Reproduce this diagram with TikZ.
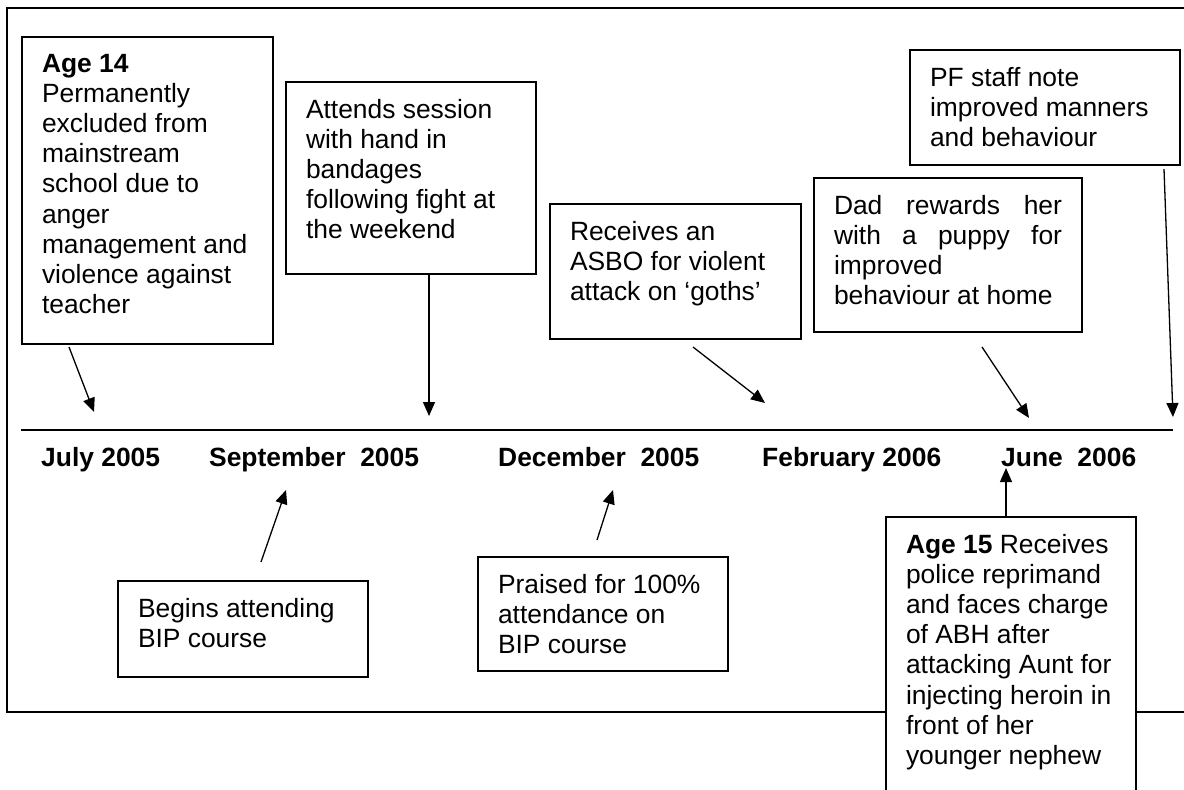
\documentclass[tikz,border=0pt]{standalone}
\usepackage{fontspec}
\setmainfont{Liberation Sans}
\usetikzlibrary{arrows.meta,calc}
\newcommand{\eventFont}{\fontsize{26.4}{30.2}\selectfont}
\newcommand{\eventText}[3]{\parbox[t][#2][t]{#1}{\raggedright #3}}
\newcommand{\timeY}{430}

\tikzset{
  eventbox/.style={draw, line width=2pt, fill=white, anchor=north west,
    inner xsep=20pt, inner ysep=17pt, font=\eventFont},
  datelabel/.style={anchor=base west, inner sep=0pt, font=\eventFont\bfseries},
  eventarrow/.style={-{Triangle[length=14pt,width=12pt]}, line width=1.3pt}
}

\begin{document}
\begin{tikzpicture}[x=1pt, y=-1pt]
\useasboundingbox (0,0) rectangle (1184,790);
% frame and time line
\draw[line width=2.5pt] (1200,8) -- (7,8) -- (7,712) -- (1200,712);
\draw[line width=2pt] (21,\timeY) -- (1173,\timeY);

% dates
\node[datelabel] (julDate) at (41,466) {July 2005};
\node[datelabel] (sepDate) at (209,466) {September\ \ 2005};
\node[datelabel] (decDate) at (498,466) {December\ \ 2005};
\node[datelabel] (febDate) at (762,466) {February 2006};
\node[datelabel] (junDate) at (1001,466) {June\ \ 2006};

% events above the line
\node[eventbox] (ageA) at (21,36) {\eventText{211pt}{273pt}{\textbf{Age 14}\\Permanently\\excluded from\\mainstream\\school due to\\anger\\management and\\violence against\\teacher}};
\node[eventbox] (attend) at (285,81) {\eventText{210pt}{158pt}{Attends session\\with hand in\\bandages\\following fight at\\the weekend}};
\node[eventbox] (asbo) at (549,203) {\eventText{211pt}{101pt}{Receives an\\ASBO for violent\\attack on `goths'}};
\node[eventbox] (dad) at (813,177) {\eventText{228pt}{120pt}{Dad\hfill rewards\hfill her\\with\hfill a\hfill puppy\hfill for\\improved\\behaviour at home}};
\node[eventbox] (pf) at (909,49) {\eventText{230pt}{81pt}{PF staff note\\improved manners\\and behaviour}};

% events below the line
\node[eventbox] (begins) at (117,580) {\eventText{210pt}{62pt}{Begins attending\\BIP course}};
\node[eventbox] (praised) at (477,556) {\eventText{210pt}{80pt}{Praised for 100\%\\attendance on\\BIP course}};
\node[eventbox] (ageB) at (885,516) {\eventText{210pt}{270pt}{\textbf{Age 15} Receives\\police reprimand\\and faces charge\\of ABH after\\attacking Aunt for\\injecting heroin in\\front of her\\younger nephew}};

% arrow tips
\coordinate (julTip) at (94,412);
\coordinate (sepTip) at (429,416);
\coordinate (febTip) at (765,403);
\coordinate (junTip) at (1029,418);
\coordinate (endTip) at (1173,417);
\coordinate (sepUp) at (286,490);
\coordinate (decUp) at (613,490);
\coordinate (junUp) at (1006,468);

\draw[eventarrow] ($(ageA.south west)+(48,2)$) -- (julTip);
\draw[eventarrow] (attend.south -| sepTip) -- (sepTip);
\draw[eventarrow] ($(asbo.south west)+(144,7)$) -- (febTip);
\draw[eventarrow] ($(dad.south west)+(169,14)$) -- (junTip);
\draw[eventarrow] ($(pf.south west)+(255,3)$) -- (endTip);
\draw[eventarrow] ($(begins.north west)+(144,-18)$) -- (sepUp);
\draw[eventarrow] ($(praised.north west)+(120,-16)$) -- (decUp);
\draw[eventarrow] (ageB.north -| junUp) -- (junUp);
\end{tikzpicture}
\end{document}
